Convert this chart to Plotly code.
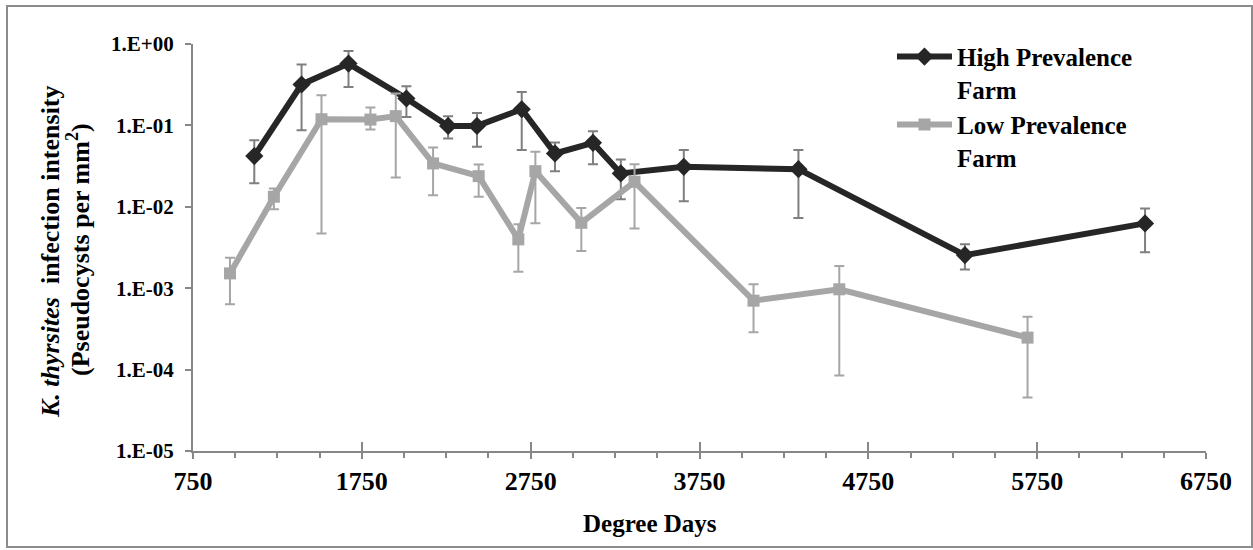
import plotly.graph_objects as go

# ---------------- data ----------------
high_x = [1113, 1393, 1671, 2014, 2261, 2432, 2697, 2894, 3119, 3284, 3657, 4336, 5322, 6389]
high_y = [0.042, 0.318, 0.574, 0.214, 0.0986, 0.0986, 0.158, 0.0452, 0.061, 0.0257, 0.031, 0.029, 0.00255, 0.00625]
high_upper = [0.0659, 0.559, 0.82, 0.303, 0.130, 0.142, 0.258, 0.0617, 0.085, 0.0382, 0.0497, 0.0497, 0.00346, 0.00955]
high_lower = [0.0194, 0.0873, 0.297, 0.127, 0.069, 0.0545, 0.0497, 0.0274, 0.0334, 0.0124, 0.0117, 0.0073, 0.0017, 0.00276]

low_x = [969, 1229, 1511, 1801, 1951, 2172, 2442, 2677, 2778, 3050, 3365, 4070, 4578, 5693]
low_y = [0.00152, 0.0133, 0.119, 0.118, 0.130, 0.0341, 0.0238, 0.00398, 0.0274, 0.00636, 0.0203, 0.000703, 0.00097, 0.000247]
low_upper = [0.00237, 0.0168, 0.235, 0.166, 0.246, 0.0535, 0.0331, 0.0061, 0.0473, 0.0097, 0.0334, 0.00112, 0.00187, 0.000447]
low_lower = [0.000634, 0.0093, 0.0047, 0.089, 0.0229, 0.0139, 0.0133, 0.00159, 0.00626, 0.00286, 0.00543, 0.000288, 0.0000844, 0.0000453]

series_names = ["High Prevalence<br>Farm", "Low Prevalence<br>Farm"]
y_tickvals = [1, 0.1, 0.01, 0.001, 0.0001, 0.00001]
y_ticktext = ["1.E+00", "1.E-01", "1.E-02", "1.E-03", "1.E-04", "1.E-05"]
x_ticks = [750, 1750, 2750, 3750, 4750, 5750, 6750]

FONT = "Liberation Serif"
AXIS_GREY = "#878787"

def err_plus(y, up):
    return [u - v for v, u in zip(y, up)]

def err_minus(y, lo):
    return [v - l for v, l in zip(y, lo)]

fig = go.Figure()

fig.add_trace(go.Scatter(
    x=high_x, y=high_y, name=series_names[0], mode="lines+markers",
    line=dict(color="#262626", width=6),
    marker=dict(symbol="diamond", size=14, color="#262626"),
    error_y=dict(type="data", symmetric=False,
                 array=err_plus(high_y, high_upper),
                 arrayminus=err_minus(high_y, high_lower),
                 color="#7f7f7f", thickness=2, width=5),
))
fig.add_trace(go.Scatter(
    x=low_x, y=low_y, name=series_names[1], mode="lines+markers",
    line=dict(color="#a6a6a6", width=6),
    marker=dict(symbol="square", size=12, color="#a6a6a6"),
    error_y=dict(type="data", symmetric=False,
                 array=err_plus(low_y, low_upper),
                 arrayminus=err_minus(low_y, low_lower),
                 color="#a6a6a6", thickness=2, width=5),
))
# invisible helper trace so the overlay axis (inner half of crossing ticks) is drawn
fig.add_trace(go.Scatter(x=[x_ticks[0]], y=[y_tickvals[0]], xaxis="x2", mode="markers",
                         marker=dict(opacity=0), showlegend=False, hoverinfo="skip"))

fig.update_layout(
    width=1253, height=550,
    margin=dict(l=193, r=47, t=44, b=99),
    paper_bgcolor="white", plot_bgcolor="white",
    font=dict(family=FONT, color="black"),
    showlegend=True,
    legend=dict(x=0.69, y=1.025, xanchor="left", yanchor="top",
                font=dict(family=FONT, size=25, weight="bold", color="black"),
                itemwidth=55, valign="top", bgcolor="rgba(0,0,0,0)", tracegroupgap=0),
    xaxis=dict(range=[750, 6750], tickvals=x_ticks, ticks="outside", ticklen=6,
               tickwidth=2, tickcolor=AXIS_GREY, showline=True, linecolor=AXIS_GREY,
               linewidth=2, showgrid=False, zeroline=False,
               tickfont=dict(family=FONT, size=26, weight="bold", color="black"),
               ticklabelstandoff=0,
               minor=dict(dtick=250, tick0=750, ticks="outside", ticklen=5,
                          tickwidth=2, tickcolor=AXIS_GREY, showgrid=False)),
    xaxis2=dict(range=[750, 6750], overlaying="x", anchor="y", side="bottom",
                tickvals=x_ticks, ticks="inside", ticklen=9, tickwidth=2,
                tickcolor=AXIS_GREY, showticklabels=False, showline=False,
                showgrid=False, zeroline=False),
    yaxis=dict(type="log", range=[-5, 0], tickvals=y_tickvals, ticktext=y_ticktext,
               ticks="outside", ticklen=6, tickwidth=2, tickcolor=AXIS_GREY,
               showline=True, linecolor=AXIS_GREY, linewidth=2, showgrid=False,
               zeroline=False, ticklabelstandoff=7,
               tickfont=dict(family=FONT, size=21, weight="bold", color="black")),
)

# axis titles
fig.add_annotation(text="<i>K. thyrsites</i>\u00a0\u00a0infection intensity",
                   xref="paper", yref="paper", x=(50 - 193) / 1013, y=(451 - 252) / 407,
                   xanchor="center", yanchor="middle", textangle=-90, showarrow=False,
                   font=dict(family=FONT, size=26, weight="bold", color="black"))
fig.add_annotation(text="(Pseudocysts per mm<sup>2</sup>)",
                   xref="paper", yref="paper", x=(78 - 193) / 1013, y=(451 - 250) / 407,
                   xanchor="center", yanchor="middle", textangle=-90, showarrow=False,
                   font=dict(family=FONT, size=26, weight="bold", color="black"))
fig.add_annotation(text="Degree Days", xref="paper", yref="paper",
                   x=(650 - 193) / 1013, y=(451 - 523) / 407,
                   xanchor="center", yanchor="middle", showarrow=False,
                   font=dict(family=FONT, size=25, weight="bold", color="black"))

# outer chart border
fig.add_shape(type="rect", xref="paper", yref="paper",
              x0=(7 - 193) / 1013, x1=(1252 - 193) / 1013,
              y0=(451 - 547) / 407, y1=(451 - 6) / 407,
              line=dict(color="#8c8c8c", width=2), fillcolor="rgba(0,0,0,0)", layer="below")

fig.write_html("out.html")
